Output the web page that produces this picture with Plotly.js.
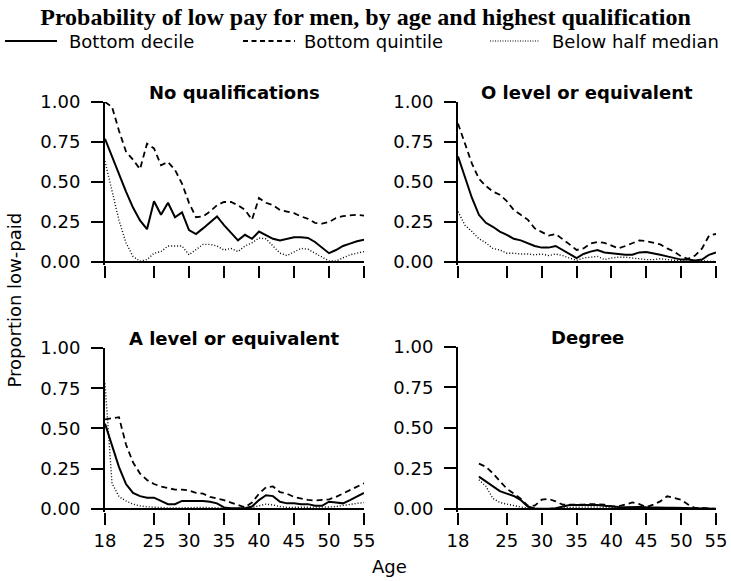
<!DOCTYPE html>
<html>
<head>
<meta charset="utf-8">
<script src="https://cdn.plot.ly/plotly-3.0.1.min.js"></script>
<style>html,body{margin:0;padding:0;background:#fff;}#chart{width:731px;height:581px;}</style>
</head>
<body>
<div id="chart"></div>
<script>
// ---- Data ----
const ages = [18,19,20,21,22,23,24,25,26,27,28,29,30,31,32,33,34,35,36,37,38,39,40,41,42,43,44,45,46,47,48,49,50,51,52,53,54,55];

const panelTitles = ["No qualifications", "O level or equivalent", "A level or equivalent", "Degree"];
const seriesNames = ["Bottom decile", "Bottom quintile", "Below half median"];
const xTickVals = [18,25,30,35,40,45,50,55];
const yTickVals = [0, 0.25, 0.5, 0.75, 1];
const yTickText = ["0.00", "0.25", "0.50", "0.75", "1.00"];

const noQualDecile   = [0.77,0.66,0.54,0.44,0.34,0.26,0.205,0.38,0.295,0.37,0.28,0.31,0.20,0.175,0.21,0.25,0.285,0.23,0.18,0.135,0.17,0.145,0.19,0.165,0.145,0.135,0.145,0.155,0.155,0.15,0.125,0.09,0.055,0.075,0.10,0.115,0.13,0.14];
const noQualQuintile = [1.0,0.97,0.82,0.69,0.64,0.58,0.74,0.71,0.605,0.625,0.575,0.49,0.37,0.28,0.285,0.315,0.355,0.375,0.375,0.355,0.325,0.265,0.40,0.37,0.355,0.325,0.315,0.305,0.285,0.27,0.245,0.24,0.25,0.275,0.287,0.29,0.295,0.29];
const noQualHalf     = [0.63,0.45,0.26,0.12,0.035,0.005,0.015,0.055,0.065,0.10,0.10,0.10,0.045,0.075,0.11,0.11,0.10,0.075,0.085,0.065,0.10,0.12,0.15,0.145,0.10,0.055,0.04,0.065,0.085,0.08,0.055,0.03,0.006,0.006,0.025,0.045,0.055,0.065];

const oLevelDecile   = [0.66,0.53,0.40,0.295,0.245,0.22,0.19,0.17,0.145,0.135,0.115,0.10,0.09,0.09,0.10,0.075,0.045,0.025,0.05,0.065,0.075,0.06,0.055,0.05,0.045,0.045,0.06,0.062,0.055,0.045,0.035,0.025,0.015,0.015,0.01,0.015,0.045,0.06];
const oLevelQuintile = [0.865,0.74,0.615,0.52,0.475,0.44,0.42,0.38,0.325,0.295,0.265,0.21,0.185,0.165,0.175,0.145,0.11,0.075,0.085,0.115,0.125,0.12,0.10,0.085,0.10,0.12,0.135,0.13,0.12,0.11,0.085,0.065,0.035,0.02,0.04,0.085,0.165,0.175];
const oLevelHalf     = [0.315,0.23,0.19,0.145,0.12,0.085,0.075,0.055,0.055,0.05,0.05,0.045,0.05,0.04,0.05,0.04,0.025,0.01,0.025,0.03,0.035,0.015,0.025,0.03,0.03,0.025,0.02,0.015,0.015,0.02,0.015,0.01,0.008,0.004,0.004,0.008,0.004,0.004];

const aLevelDecile   = [0.53,0.39,0.26,0.155,0.10,0.08,0.07,0.07,0.05,0.03,0.03,0.05,0.05,0.05,0.05,0.045,0.035,0.01,0.004,0.004,0.004,0.015,0.055,0.085,0.08,0.045,0.035,0.035,0.03,0.03,0.02,0.02,0.045,0.04,0.035,0.055,0.08,0.10];
const aLevelQuintile = [0.557,0.563,0.57,0.40,0.29,0.22,0.18,0.155,0.14,0.13,0.12,0.12,0.115,0.10,0.095,0.075,0.065,0.055,0.04,0.025,0.01,0.04,0.095,0.135,0.14,0.105,0.095,0.075,0.065,0.056,0.052,0.055,0.06,0.075,0.097,0.12,0.14,0.16];
const aLevelHalf     = [0.78,0.16,0.077,0.05,0.03,0.019,0.014,0.01,0.008,0.006,0.006,0.008,0.01,0.01,0.01,0.008,0.006,0.004,0.003,0.003,0.003,0.008,0.02,0.03,0.025,0.015,0.01,0.01,0.008,0.008,0.01,0.01,0.012,0.015,0.02,0.028,0.035,0.04];

const degreeDecile   = [null,null,null,0.20,0.17,0.14,0.11,0.095,0.08,0.055,0.015,0.003,0.002,0.001,0.005,0.015,0.025,0.025,0.025,0.025,0.025,0.02,0.015,0.012,0.01,0.012,0.012,0.01,0.008,0.008,0.008,0.007,0.006,0.004,0.003,0.003,0.002,0.002];
const degreeQuintile = [null,null,null,0.28,0.26,0.22,0.17,0.125,0.095,0.063,0.02,0.02,0.057,0.062,0.047,0.027,0.027,0.025,0.027,0.03,0.03,0.027,0.016,0.016,0.027,0.04,0.03,0.012,0.027,0.047,0.078,0.068,0.057,0.027,0.006,0.006,0.002,0.0];
const degreeHalf     = [null,null,null,0.18,0.14,0.065,0.04,0.03,0.02,0.012,0.006,0.003,0.002,0.002,0.003,0.006,0.01,0.012,0.012,0.012,0.012,0.01,0.008,0.006,0.005,0.005,0.005,0.004,0.004,0.004,0.004,0.003,0.003,0.002,0.002,0.002,0.002,0.002];

const panelData = [
  [noQualDecile, noQualQuintile, noQualHalf],
  [oLevelDecile, oLevelQuintile, oLevelHalf],
  [aLevelDecile, aLevelQuintile, aLevelHalf],
  [degreeDecile, degreeQuintile, degreeHalf]
];

// ---- Styles ----
const W = 731, H = 581;
const lineStyles = [
  {color:'#000', width:2, dash:'solid'},
  {color:'#000', width:1.8, dash:'6px,4px'},
  {color:'#000', width:1.4, dash:'1px,2px'}
];
const font = 'DejaVu Sans, Arial, sans-serif';

// panel pixel boxes: [left, right, top, bottom]
const boxes = [
  [105, 364, 102, 265.2],
  [458, 716, 102, 265.2],
  [105, 364, 348, 512.2],
  [458, 716, 347, 512.2]
];

const traces = [];
const layout = {
  width: W, height: H,
  margin: {l:0, r:0, t:0, b:0},
  paper_bgcolor: '#fff', plot_bgcolor: '#fff',
  showlegend: false,
  font: {family: font, size: 18, color: '#000'},
  title: {text: '<b>Probability of low pay for men, by age and highest qualification</b>',
          x: 0.5, xanchor: 'center', y: 1 - 17/H, yanchor: 'middle',
          font: {family: 'Liberation Serif, Times New Roman, serif', size: 24, color: '#000'}},
  annotations: [],
  shapes: []
};

boxes.forEach((b, i) => {
  const n = i === 0 ? '' : String(i + 1);
  const xa = 'xaxis' + n, ya = 'yaxis' + n;
  layout[xa] = {
    domain: [b[0]/W, b[1]/W], anchor: 'y' + n,
    range: [18, 55], tickvals: xTickVals, showticklabels: i >= 2,
    ticks: 'outside', ticklen: 12, tickwidth: 2, tickcolor: '#000',
    showline: false, showgrid: false, zeroline: false,
    tickfont: {family: font, size: 18, color: '#000'}
  };
  layout[ya] = {
    domain: [1 - b[3]/H, 1 - b[2]/H], anchor: 'x' + n,
    range: [-0.02, 1], tickvals: yTickVals, ticktext: yTickText,
    ticks: 'outside', ticklen: 12, tickwidth: 2, tickcolor: '#000',
    ticklabelstandoff: 7,
    showline: true, linewidth: 2, linecolor: '#000',
    zeroline: true, zerolinecolor: '#000', zerolinewidth: 2,
    showgrid: false,
    tickfont: {family: font, size: 18, color: '#000'}
  };
  panelData[i].forEach((vals, s) => {
    traces.push({
      type: 'scatter', mode: 'lines', x: ages, y: vals,
      xaxis: 'x' + n, yaxis: 'y' + n, name: seriesNames[s],
      line: lineStyles[s], connectgaps: false, hoverinfo: 'skip'
    });
  });
  layout.annotations.push({
    text: '<b>' + panelTitles[i] + '</b>', showarrow: false,
    xref: 'x' + n + ' domain', yref: 'y' + n + ' domain',
    x: 0.5, y: 1, xanchor: 'center', yanchor: 'bottom', yshift: -3,
    font: {family: font, size: 18, color: '#000'}
  });
});

// legend (drawn manually to match the long line samples)
const legY = 1 - 41/H;
const legItems = [
  {x0: 5, x1: 57, tx: 67},
  {x0: 243, x1: 295, tx: 302},
  {x0: 490, x1: 540, tx: 550}
];
legItems.forEach((it, s) => {
  layout.shapes.push({type: 'line', xref: 'paper', yref: 'paper',
    x0: it.x0/W, x1: it.x1/W, y0: legY, y1: legY,
    line: {color: '#000', width: s === 2 ? 1.2 : 1.8, dash: s === 0 ? 'solid' : (s === 1 ? '5px,3.5px' : '1px,1.5px')}});
  layout.annotations.push({text: seriesNames[s], showarrow: false, xref: 'paper', yref: 'paper',
    x: it.tx/W, y: legY, xanchor: 'left', yanchor: 'middle',
    font: {family: font, size: 18, color: '#000'}});
});

// axis titles
layout.annotations.push({text: 'Proportion low-paid', showarrow: false, xref: 'paper', yref: 'paper',
  x: 13.5/W, y: 1 - 300/H, xanchor: 'center', yanchor: 'middle', textangle: -90,
  font: {family: font, size: 18, color: '#000'}});
layout.annotations.push({text: 'Age', showarrow: false, xref: 'paper', yref: 'paper',
  x: 389/W, y: 1 - 566/H, xanchor: 'center', yanchor: 'middle',
  font: {family: font, size: 18, color: '#000'}});

Plotly.newPlot('chart', traces, layout, {staticPlot: true, displayModeBar: false});
</script>
</body>
</html>
